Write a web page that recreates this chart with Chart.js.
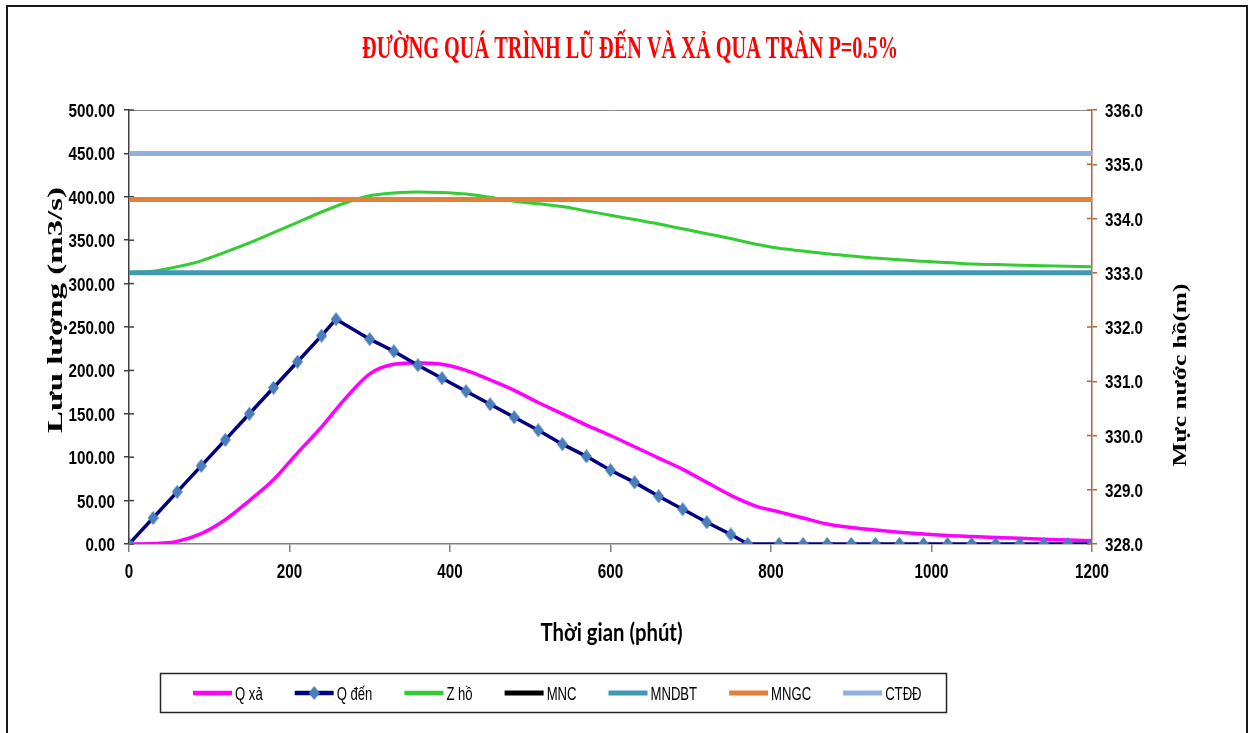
<!DOCTYPE html>
<html>
<head>
<meta charset="utf-8">
<script src="https://cdn.jsdelivr.net/npm/chart.js@4.4.1/dist/chart.umd.min.js"></script>
<style>
  html, body { margin: 0; padding: 0; background: #ffffff; }
  canvas { display: block; }
</style>
</head>
<body>
<canvas id="c" width="1253" height="733"></canvas>
<script>
// Texts
const chartTitle = 'ĐƯỜNG QUÁ TRÌNH LŨ ĐẾN VÀ XẢ QUA TRÀN P=0.5%';
const xTitle = 'Thời gian (phút)';
const yTitle = 'Lưu lượng (m3/s)';
const y2Title = 'Mực nước hồ(m)';
const seriesNames = ['Q xả', 'Q đến', 'Z hồ', 'MNC', 'MNDBT', 'MNGC', 'CTĐĐ'];

// Outflow and reservoir level, every 30 minutes
const tStep = [0, 30, 60, 90, 120, 150, 180, 210, 240, 270, 300, 330, 360, 390, 420, 450, 480, 510, 540, 570,
  600, 630, 660, 690, 720, 750, 780, 810, 840, 870, 900, 930, 960, 990, 1020, 1050, 1080, 1110, 1140, 1170, 1200];
const qXa = [0, 0.5, 3, 12, 28, 50, 74, 105, 135, 168, 196, 207, 208.5, 207, 200, 189, 177, 163, 150, 137,
  125, 112, 99, 86, 71, 56, 44, 37, 30, 23, 19, 16, 13.5, 11.5, 9.7, 8.5, 7.4, 6.5, 5.6, 4.7, 3.8];
const zHo = [333.00, 333.03, 333.11, 333.22, 333.38, 333.55, 333.74, 333.93, 334.12, 334.29, 334.42, 334.47, 334.49,
  334.48, 334.45, 334.39, 334.32, 334.27, 334.22, 334.14, 334.06, 333.98, 333.90, 333.81, 333.72, 333.63, 333.53,
  333.45, 333.40, 333.35, 333.31, 333.27, 333.24, 333.21, 333.19, 333.16, 333.15, 333.14, 333.13, 333.12, 333.11];

// Inflow hydrograph (triangular, peak at 258 min)
const tDen = [0, 30, 60, 90, 120, 150, 180, 210, 240, 258, 300, 330, 360, 390, 420, 450, 480, 510, 540, 570,
  600, 630, 660, 690, 720, 750, 771, 810, 840, 870, 900, 930, 960, 990, 1020, 1050, 1080, 1110, 1140, 1170, 1200];
const qDen = [0, 30, 60, 90, 120, 150, 180, 210, 240, 259, 236, 222, 206, 191, 176, 161, 146, 131, 115, 101,
  85, 71, 55, 40, 25, 11, 0, 0, 0, 0, 0, 0, 0, 0, 0, 0, 0, 0, 0, 0, 0];

// Characteristic water levels (m)
const tLevel = [0, 1200];
const mncLevel = [326.0, 326.0];
const mndbtLevel = [333.0, 333.0];
const mngcLevel = [334.35, 334.35];
const ctddLevel = [335.2, 335.2];

// Axis ranges and ticks
const xRange = [0, 1200, 200];
const qRange = [0, 500, 50];
const zRange = [328, 336, 1];

const pairs = (xs, ys) => xs.map((x, i) => ({ x: x, y: ys[i] }));

// Diamond marker for the inflow series
function makeDiamond(w, h, fill) {
  const c = document.createElement('canvas');
  c.width = w; c.height = h;
  const g = c.getContext('2d');
  g.fillStyle = fill;
  g.beginPath();
  g.moveTo(w / 2, 0); g.lineTo(w, h / 2); g.lineTo(w / 2, h); g.lineTo(0, h / 2);
  g.closePath(); g.fill();
  return c;
}
const diamond = makeDiamond(11, 14, '#4A7EBB');

function lineSet(label, xs, ys, color, width, axis, extra) {
  return Object.assign({
    label: label,
    data: pairs(xs, ys),
    yAxisID: axis,
    showLine: true,
    borderColor: color,
    backgroundColor: color,
    borderWidth: width,
    pointRadius: 0,
    pointHoverRadius: 0,
    fill: false
  }, extra || {});
}

const datasets = [
  lineSet(seriesNames[0], tStep, qXa, '#FF00FF', 3.5, 'y', { cubicInterpolationMode: 'monotone' }),
  lineSet(seriesNames[1], tDen, qDen, '#000080', 3.5, 'y', { pointRadius: 6, pointStyle: diamond }),
  lineSet(seriesNames[2], tStep, zHo, '#33CC33', 3, 'y2', { cubicInterpolationMode: 'monotone' }),
  lineSet(seriesNames[3], tLevel, mncLevel, '#000000', 5, 'y2'),
  lineSet(seriesNames[4], tLevel, mndbtLevel, '#4198B4', 5, 'y2'),
  lineSet(seriesNames[5], tLevel, mngcLevel, '#E4803A', 5, 'y2'),
  lineSet(seriesNames[6], tLevel, ctddLevel, '#93AFDB', 5, 'y2')
];
// later series sit on top
datasets.forEach((d, i) => { d.order = 20 - i; });

// Text stretched or squeezed to a given run length
function fitText(ctx, text, x, y, font, color, width, angle) {
  ctx.save();
  ctx.font = font;
  ctx.fillStyle = color;
  ctx.textAlign = 'center';
  ctx.textBaseline = 'alphabetic';
  const w = ctx.measureText(text).width;
  ctx.translate(x, y);
  if (angle) ctx.rotate(angle);
  ctx.scale(width / w, 1);
  ctx.fillText(text, 0, 0);
  ctx.restore();
}

// Text drawn with a fixed horizontal squeeze (narrow face look)
function narrowText(ctx, text, x, y, font, squeeze, align) {
  ctx.save();
  ctx.font = font;
  ctx.fillStyle = '#000000';
  ctx.textAlign = align;
  ctx.textBaseline = 'alphabetic';
  ctx.translate(x, y);
  ctx.scale(squeeze, 1);
  ctx.fillText(text, 0, 0);
  ctx.restore();
}

const tickLabelFont = 'bold 19px "Liberation Sans", Arial, sans-serif';
const xTickLabelFont = 'bold 20px "Liberation Sans", Arial, sans-serif';

// Short tick marks on the inner side of both value axes, the top edge of the plot, tick labels
const axisDetails = {
  id: 'axisDetails',
  beforeDatasetsDraw(chart) {
    const { ctx, chartArea: a, scales } = chart;
    ctx.save();
    ctx.lineWidth = 1;
    ctx.strokeStyle = '#8a8a8a';
    ctx.beginPath();
    ctx.moveTo(a.left, a.top + 0.5);
    ctx.lineTo(a.right, a.top + 0.5);
    ctx.stroke();
    ctx.lineWidth = 1.5;
    ctx.strokeStyle = '#404040';
    scales.y.ticks.forEach(t => {
      const py = scales.y.getPixelForValue(t.value);
      ctx.beginPath(); ctx.moveTo(a.left, py); ctx.lineTo(a.left + 5, py); ctx.stroke();
    });
    ctx.strokeStyle = '#B0653C';
    scales.y2.ticks.forEach(t => {
      const py = scales.y2.getPixelForValue(t.value);
      ctx.beginPath(); ctx.moveTo(a.right - 5, py); ctx.lineTo(a.right, py); ctx.stroke();
    });
    ctx.restore();

    // tick labels
    scales.y.ticks.forEach(t => {
      const py = scales.y.getPixelForValue(t.value);
      narrowText(ctx, Number(t.value).toFixed(2), a.left - 14, py + 7, tickLabelFont, 0.8, 'right');
    });
    scales.y2.ticks.forEach(t => {
      const py = scales.y2.getPixelForValue(t.value);
      narrowText(ctx, Number(t.value).toFixed(1), a.right + 13, py + 7, tickLabelFont, 0.8, 'left');
    });
    scales.x.ticks.forEach(t => {
      const px = scales.x.getPixelForValue(t.value);
      narrowText(ctx, String(t.value), px, a.bottom + 34, xTickLabelFont, 0.76, 'center');
    });
  }
};

// Frame, titles and legend box
const decorations = {
  id: 'decorations',
  afterDraw(chart) {
    const { ctx, chartArea: a } = chart;
    const W = chart.width, H = chart.height;
    ctx.save();
    // outer frame
    ctx.strokeStyle = '#1a1a1a';
    ctx.lineWidth = 2;
    ctx.beginPath();
    ctx.moveTo(7, H + 2); ctx.lineTo(7, 6); ctx.lineTo(W - 6, 6); ctx.lineTo(W - 6, H + 2);
    ctx.stroke();
    ctx.restore();

    // chart title
    fitText(ctx, chartTitle, 630, 58, 'bold 31px "Liberation Serif", "Times New Roman", serif', '#FF0000', 536, 0);
    // axis titles
    fitText(ctx, yTitle, 62, 310, 'bold 20px "Liberation Serif", serif', '#000000', 246, -Math.PI / 2);
    fitText(ctx, y2Title, 1186, 375, 'bold 19px "Liberation Serif", serif', '#000000', 183, -Math.PI / 2);
    fitText(ctx, xTitle, (a.left + a.right) / 2 + 1, 641, 'bold 24px Lato, "Open Sans", sans-serif', '#000000', 142, 0);

    // legend
    const box = { x: 160.5, y: 673.5, w: 786, h: 39 };
    ctx.save();
    ctx.strokeStyle = '#262626';
    ctx.lineWidth = 1.5;
    ctx.strokeRect(box.x, box.y, box.w, box.h);
    const font = '19px "Liberation Sans", Arial, sans-serif';
    const squeeze = 0.69;
    const lineLen = 39, gapText = 3, gapItem = 32;
    const midY = 693;
    ctx.font = font;
    let x = 193;
    chart.data.datasets.forEach((d) => {
      ctx.strokeStyle = d.borderColor;
      ctx.lineWidth = Math.max(d.borderWidth, 4.5);
      ctx.beginPath(); ctx.moveTo(x, midY); ctx.lineTo(x + lineLen, midY); ctx.stroke();
      if (d.pointStyle === diamond) {
        ctx.drawImage(diamond, x + lineLen / 2 - diamond.width / 2, midY - diamond.height / 2);
      }
      ctx.font = font;
      const tw = ctx.measureText(d.label).width * squeeze;
      const tx = x + lineLen + gapText;
      narrowText(ctx, d.label, tx, 700, font, squeeze, 'left');
      x = tx + tw + gapItem;
    });
    ctx.restore();
  }
};

new Chart(document.getElementById('c'), {
  type: 'scatter',
  data: { datasets: datasets },
  options: {
    responsive: false,
    animation: false,
    events: [],
    layout: { padding: { top: 110, left: 0, right: 0, bottom: 0 } },
    plugins: {
      legend: { display: false },
      title: { display: false },
      tooltip: { enabled: false }
    },
    scales: {
      x: {
        type: 'linear',
        position: 'bottom',
        min: xRange[0], max: xRange[1],
        ticks: { stepSize: xRange[2], display: false },
        grid: { drawOnChartArea: false, drawTicks: true, tickLength: 8, color: '#7f7f7f', lineWidth: 1.5 },
        border: { display: true, color: '#7f7f7f', width: 1.5 },
        afterFit: (s) => { s.height = 189; }
      },
      y: {
        type: 'linear',
        position: 'left',
        min: qRange[0], max: qRange[1],
        ticks: { stepSize: qRange[2], display: false },
        grid: { drawOnChartArea: false, drawTicks: true, tickLength: 5, color: '#404040', lineWidth: 1.5 },
        border: { display: true, color: '#404040', width: 1.5 },
        afterFit: (s) => { s.width = 129; }
      },
      y2: {
        type: 'linear',
        position: 'right',
        min: zRange[0], max: zRange[1],
        ticks: { stepSize: zRange[2], display: false },
        grid: { drawOnChartArea: false, drawTicks: true, tickLength: 5, color: '#B0653C', lineWidth: 1.5 },
        border: { display: true, color: '#B0653C', width: 1.5 },
        afterFit: (s) => { s.width = 161; }
      }
    }
  },
  plugins: [axisDetails, decorations]
});
</script>
</body>
</html>
